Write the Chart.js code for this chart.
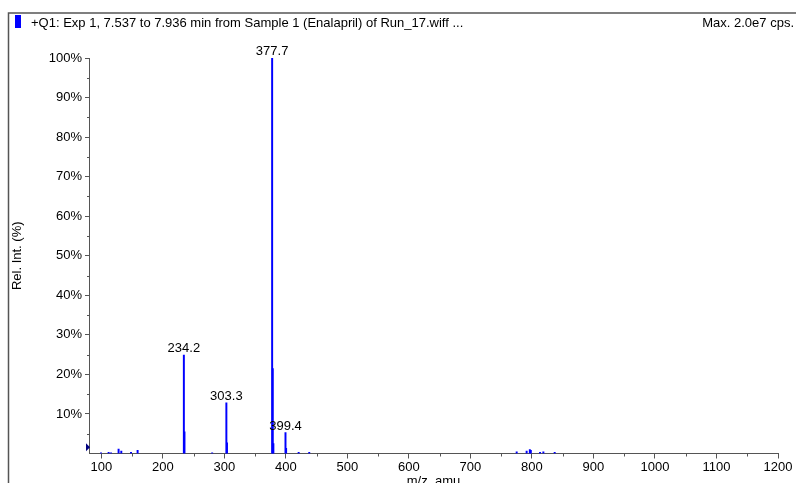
<!DOCTYPE html>
<html>
<head>
<meta charset="utf-8">
<style>
* {
  margin: 0;
  padding: 0;
}
body {
  background: #fff;
}
.chartBox {
  width: 796px;
  height: 483px;
  position: relative;
}
</style>
</head>
<body>
<div class="chartBox">
  <canvas id="myChart"></canvas>
</div>
<script src="https://cdn.jsdelivr.net/npm/chart.js"></script>
<script>
// spectrum data (m/z, relative intensity %)
const mz = [99.5, 111.9, 115.8, 128.1, 132.5, 148.3, 159.0, 234.2, 235.2, 280.2, 303.3, 304.3,
  377.7, 378.7, 379.7, 399.4, 400.4, 420.8, 438.0, 775.2, 791.4, 796.6, 798.2, 813.2, 818.6, 837.0];
const intensity = [0.2, 0.3, 0.2, 1.1, 0.6, 0.3, 0.8, 24.9, 5.5, 0.2, 12.8, 2.7,
  100, 21.5, 2.5, 5.3, 1.3, 0.3, 0.3, 0.4, 0.6, 1.0, 0.8, 0.3, 0.4, 0.3];

// labelled peaks
const peakLabels = ['234.2', '303.3', '377.7', '399.4'];

// axes
const xTicks = [100, 200, 300, 400, 500, 600, 700, 800, 900, 1000, 1100, 1200];
const yTicks = [10, 20, 30, 40, 50, 60, 70, 80, 90, 100];

const headerLeft = '+Q1: Exp 1, 7.537 to 7.936 min from Sample 1 (Enalapril) of Run_17.wiff ...';
const headerRight = 'Max. 2.0e7 cps.';

const FAMILY = '"Liberation Sans", Arial, sans-serif';
const FONT = '13px ' + FAMILY;

const decor = {
  id: 'decor',
  afterDraw(chart) {
    const ctx = chart.ctx;
    const area = chart.chartArea;
    const xs = chart.scales.x;
    const ys = chart.scales.y;
    ctx.save();

    // outer frame (top + left)
    ctx.strokeStyle = '#555';
    ctx.lineWidth = 1.5;
    ctx.beginPath();
    ctx.moveTo(8.5, 483);
    ctx.lineTo(8.5, 13);
    ctx.lineTo(796, 13);
    ctx.stroke();

    // header
    ctx.fillStyle = '#0000ff';
    ctx.fillRect(15, 15, 6, 13);
    ctx.fillStyle = '#000';
    ctx.font = FONT;
    ctx.textBaseline = 'alphabetic';
    ctx.textAlign = 'left';
    ctx.fillText(headerLeft, 31, 27);
    ctx.textAlign = 'right';
    ctx.fillText(headerRight, 794, 27);

    // minor ticks
    ctx.strokeStyle = '#555';
    ctx.lineWidth = 1;
    ctx.beginPath();
    for (let v = 5; v < 100; v += 10) {
      const py = Math.round(ys.getPixelForValue(v)) + 0.5;
      ctx.moveTo(area.left, py);
      ctx.lineTo(area.left - 2, py);
    }
    for (let v = 150; v < 1200; v += 100) {
      const px = Math.round(xs.getPixelForValue(v)) + 0.5;
      ctx.moveTo(px, area.bottom);
      ctx.lineTo(px, area.bottom + 3);
    }
    ctx.stroke();

    // baseline marker
    const by = ys.getPixelForValue(1.6);
    ctx.fillStyle = '#000080';
    ctx.beginPath();
    ctx.moveTo(area.left - 3, by - 4);
    ctx.lineTo(area.left + 1, by);
    ctx.lineTo(area.left - 3, by + 4);
    ctx.closePath();
    ctx.fill();

    // peak labels
    ctx.fillStyle = '#000';
    ctx.textAlign = 'center';
    peakLabels.forEach(lbl => {
      const i = mz.indexOf(parseFloat(lbl));
      const px = xs.getPixelForValue(mz[i]);
      const py = ys.getPixelForValue(intensity[i]);
      ctx.fillText(lbl, px, py - 3);
    });
    ctx.restore();
  }
};

const data = {
  datasets: [{
    label: 'Spectrum',
    data: mz.map((m, i) => ({ x: m, y: intensity[i] })),
    backgroundColor: '#0000ff',
    borderWidth: 0,
    barThickness: 1.3
  }]
};

const config = {
  type: 'bar',
  data,
  options: {
    responsive: false,
    animation: false,
    layout: { padding: { top: 58, right: 18, left: 0, bottom: 0 } },
    plugins: {
      legend: { display: false },
      tooltip: { enabled: false }
    },
    scales: {
      x: {
        type: 'linear',
        min: 80,
        max: 1200,
        offset: false,
        afterBuildTicks: s => { s.ticks = xTicks.map(v => ({ value: v })); },
        afterFit: s => { s.height = 29.5; },
        grid: { display: true, offset: false, drawOnChartArea: false, drawTicks: true, tickLength: 5, tickColor: '#555' },
        border: { display: true, color: '#555', width: 1 },
        ticks: { color: '#000', font: { family: FAMILY, size: 13 }, padding: 1, maxRotation: 0, autoSkip: false, callback: v => String(v) },
        title: { display: true, text: 'm/z, amu', color: '#000', font: { family: FAMILY, size: 13 }, padding: { top: 0, bottom: -6 } }
      },
      y: {
        min: 0,
        max: 100,
        afterBuildTicks: s => { s.ticks = yTicks.map(v => ({ value: v })); },
        afterFit: s => { s.width = 89; },
        grid: { display: true, drawOnChartArea: false, drawTicks: true, tickLength: 4, tickColor: '#555' },
        border: { display: true, color: '#555', width: 1 },
        ticks: { color: '#000', font: { family: FAMILY, size: 13 }, padding: 3, callback: v => v + '%' },
        title: { display: true, text: 'Rel. Int. (%)', color: '#000', font: { family: FAMILY, size: 13 }, padding: { top: 10, bottom: 0 } }
      }
    }
  }
};

const canvas = document.getElementById('myChart');
canvas.width = 796;
canvas.height = 483;
const myChart = new Chart(canvas, { ...config, plugins: [decor] });
</script>
</body>
</html>
